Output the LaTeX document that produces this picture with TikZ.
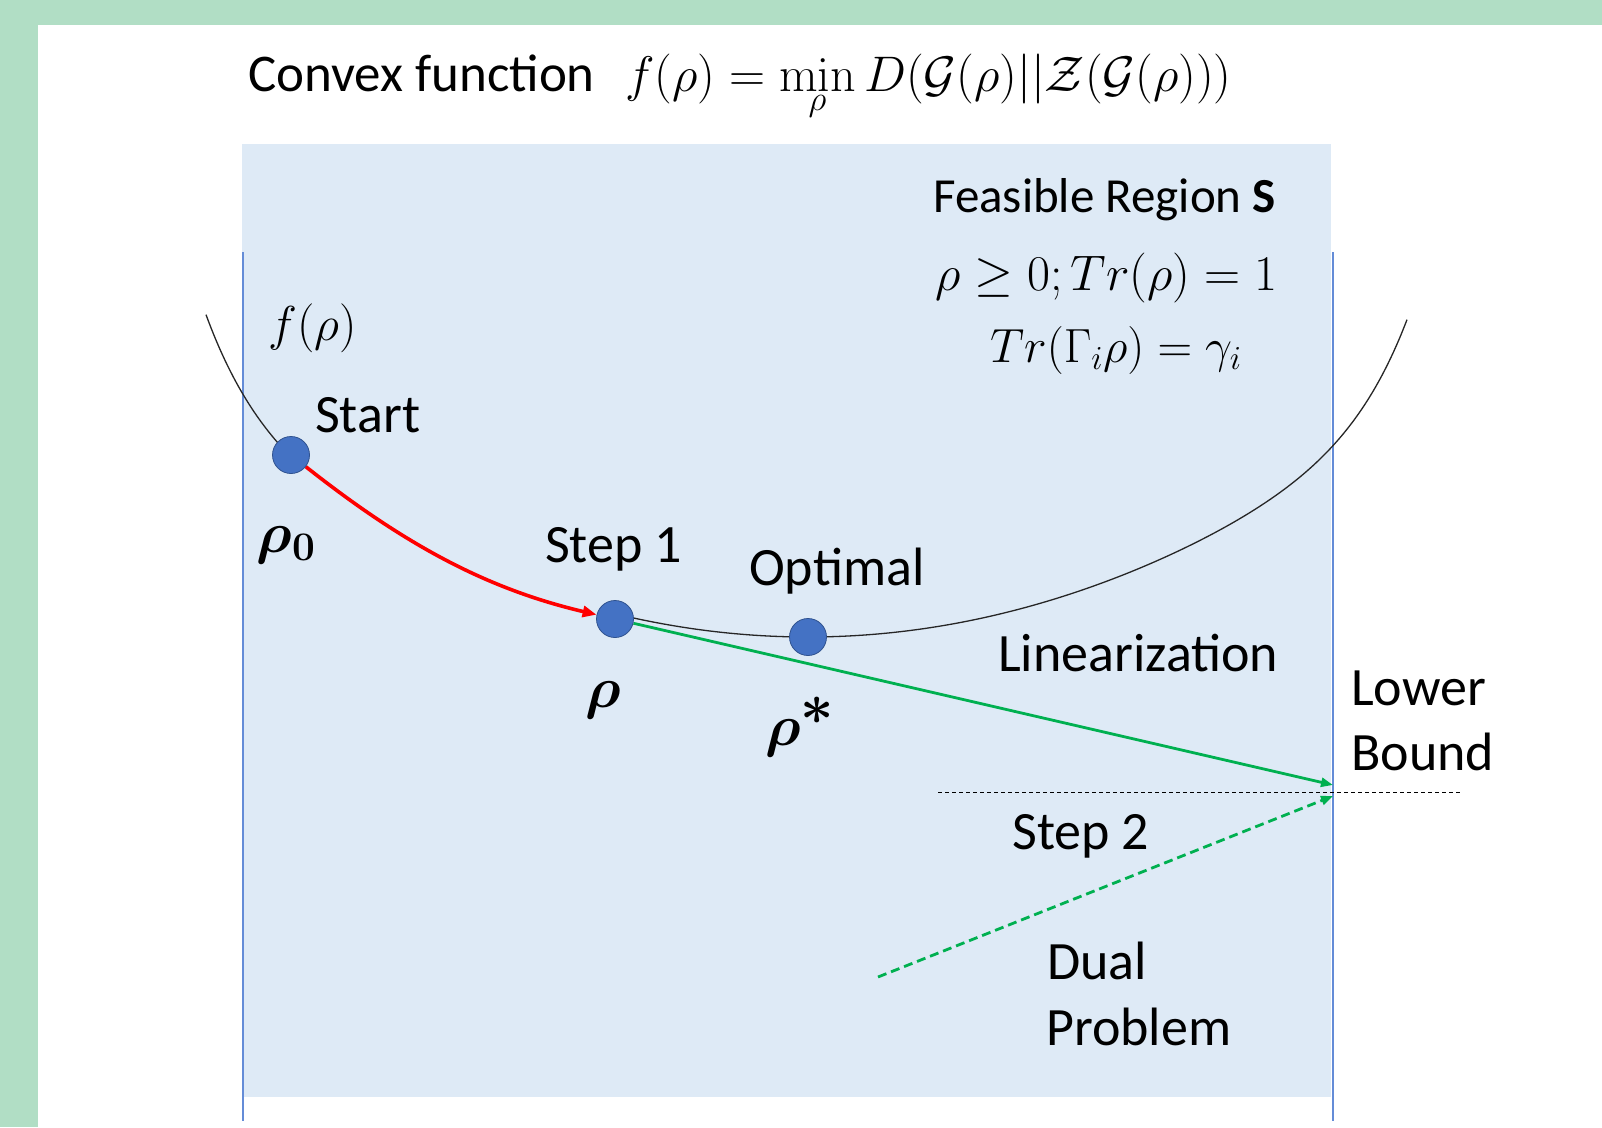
\RequirePackage{fix-cm}
\documentclass[tikz,border=0pt]{standalone}
\usepackage{amsmath,bm}
\usepackage[no-math]{fontspec}
\setmainfont{Carlito}
\usetikzlibrary{arrows.meta}
\definecolor{bordergreen}{RGB}{177,222,197}
\definecolor{regionblue}{RGB}{222,234,246}
\definecolor{dotblue}{RGB}{68,114,196}
\definecolor{dotedge}{RGB}{47,82,143}
\definecolor{lineblue}{RGB}{100,140,215}
\definecolor{arrowgreen}{RGB}{0,176,80}
\definecolor{arrowred}{RGB}{255,0,0}
\pgfdeclarelayer{back}
\pgfdeclarelayer{lines}
\pgfsetlayers{back,lines,main}
\begin{document}
\begin{tikzpicture}[x=1pt,y=-1pt,
  declare function={uu(\t)=((\t-808)/600)*((\t-808)/600); fcurve(\t)=637-225*uu(\t)-95*uu(\t)^6;},
  dot/.style={circle,fill=dotblue,draw=dotedge,line width=0.8pt,minimum size=37pt,inner sep=0pt},
  lbl/.style={font=\fontsize{54}{65}\selectfont,anchor=base west,inner sep=0pt},
  titlelbl/.style={font=\fontsize{53}{64}\selectfont,anchor=base west,inner sep=0pt},
  feas/.style={font=\fontsize{49}{58}\selectfont,anchor=base west,inner sep=0pt},
  mathlbl/.style={font=\fontsize{48}{58}\selectfont,anchor=base west,inner sep=0pt},
  bigmath/.style={font=\fontsize{50}{60}\selectfont,anchor=base west,inner sep=0pt},
  boldrho/.style={font=\fontsize{58}{70}\selectfont,anchor=center,inner sep=0pt},
  regionline/.style={draw=lineblue,line width=1.6pt},
  curveline/.style={draw=black!85,line width=1.3pt},
  redarrow/.style={draw=arrowred,line width=3.6pt,-{Triangle[length=14pt,width=11pt]}},
  greenarrow/.style={draw=arrowgreen,line width=2.8pt,-{Triangle[length=12pt,width=9pt]}},
  greendash/.style={greenarrow,dash pattern=on 9pt off 5pt},
  blackdash/.style={draw=black,line width=1pt,dash pattern=on 4pt off 3pt}
]
\useasboundingbox (0,0) rectangle (1602,1127);

% dots (top layer)
\node[dot] (d0) at (291,455) {};
\node[dot] (d1) at (615,619) {};
\node[dot] (d2) at (808,637) {};

% coordinates
\coordinate (bl1) at (243,252);
\coordinate (bl2) at (243,1121);
\coordinate (br1) at (1333,252);
\coordinate (br2) at (1333,1121);
\coordinate (lbtip) at (1333,785);
\coordinate (dualstart) at (878,977);
\coordinate (dualtip) at (1333,796);
\coordinate (hl) at (938,792);
\coordinate (hr) at (1462,792);

\begin{pgfonlayer}{back}
\fill[bordergreen] (0,0) rectangle (1602,1127);
\fill[white] (38,25) rectangle (1602,1127);
\fill[regionblue] (242,144) rectangle (1331,1097);
\end{pgfonlayer}

\begin{pgfonlayer}{lines}
\draw[regionline] (bl1) -- (bl2);
\draw[regionline] (br1) -- (br2);
\draw[curveline] plot[domain=206:291,samples=30,smooth] (\x,{fcurve(\x)+3});
\draw[curveline] plot[domain=615:1407,samples=120,smooth] (\x,{fcurve(\x)});
\draw[blackdash] (hl) -- (hr);
\draw[greenarrow] (d1) -- (lbtip);
\draw[greendash] (dualstart) -- (dualtip);
\draw[redarrow] (d0) .. controls (405,545) and (487,589) .. (d1);
\end{pgfonlayer}

% title
\node[titlelbl] (title) at (248,91) {Convex function};
\node[font=\fontsize{50}{60}\selectfont,anchor=base west,inner sep=0pt] (formula) at (625,91) {$f(\rho)=\min\limits_{\lower5pt\hbox{$\scriptstyle\rho$}} D(\mathcal{G}(\rho)||\mathcal{Z}(\mathcal{G}(\rho)))$};

% feasible region
\node[feas] (feasible) at (933,212) {Feasible Region \textbf{S}};
\node[bigmath] (cons1) at (935,290) {$\rho\geq 0; Tr(\rho)=1$};
\node[mathlbl] (cons2) at (990,362) {$Tr(\Gamma_i\rho)=\gamma_i$};

% curve label
\node[font=\fontsize{49}{58}\selectfont,anchor=base west,inner sep=0pt] (flabel) at (268,340) {$f(\rho)$};

% labels
\node[lbl] (start) at (315,432) {Start};
\node[boldrho] (rho0) at (286,545) {$\bm{\rho}_{\mathbf{0}}$};
\node[lbl] (step1) at (545,562) {Step 1};
\node[lbl] (optimal) at (749,585) {Optimal};
\node[boldrho] (rho) at (603,700) {$\bm{\rho}$};
\node[boldrho] (rhostar) at (800,727) {$\bm{\rho}^{\textstyle\bm{*}}$};
\node[lbl] (linear) at (998,671) {Linearization};
\node[lbl] (lower) at (1351,705) {Lower};
\node[lbl] (bound) at (1351,770) {Bound};
\node[lbl] (step2) at (1012,849) {Step 2};
\node[lbl] (dual) at (1047,979) {Dual};
\node[lbl] (problem) at (1046,1045) {Problem};
\end{tikzpicture}
\end{document}
